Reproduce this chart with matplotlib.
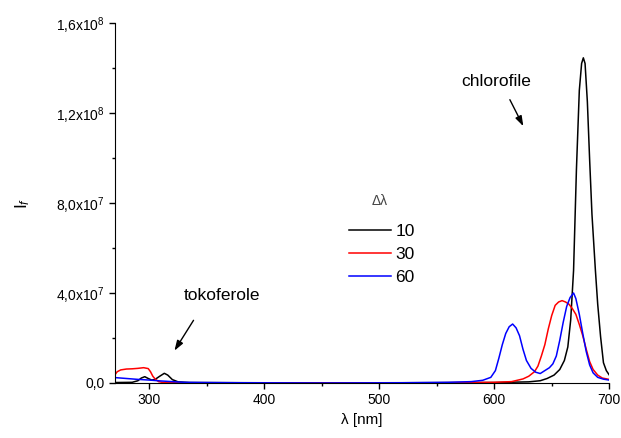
import matplotlib
matplotlib.use("Agg")
import matplotlib.pyplot as plt
from matplotlib.ticker import MultipleLocator, FixedLocator, FixedFormatter

plt.rcParams["font.family"] = ["Liberation Sans", "DejaVu Sans"]
plt.rcParams["mathtext.fontset"] = "custom"
plt.rcParams["mathtext.rm"] = "Liberation Sans"
plt.rcParams["mathtext.it"] = "Liberation Sans:italic"

# dl = 10
wl_10 = [270, 285, 290, 293, 296, 299, 302, 305, 309, 313, 316, 320, 325, 335, 400, 500,
         600, 630, 640, 646, 652, 657, 661, 664, 666.5, 669, 671.5, 674, 676, 677.5, 679,
         681, 683, 685, 688, 690, 692.5, 695, 697.5, 700]
if_10 = [0.02, 0.03, 0.1, 0.22, 0.28, 0.2, 0.13, 0.16, 0.3, 0.43, 0.35, 0.15, 0.05, 0.02, 0.01, 0.01,
         0.02, 0.05, 0.1, 0.2, 0.35, 0.6, 1.0, 1.6, 2.8, 5.0, 9.5, 13.0, 14.2, 14.45, 14.2,
         12.5, 9.9, 7.5, 5.0, 3.5, 2.06, 0.9, 0.55, 0.36]

# dl = 30
wl_30 = [270, 272, 275, 280, 285, 290, 295, 299, 301, 303, 305, 308, 312, 320, 350, 450, 550,
         600, 615, 625, 630, 635, 638, 641, 644, 647, 650, 653, 656, 659, 662, 665, 668, 671,
         674, 677, 680, 683, 686, 690, 694, 700]
if_30 = [0.36, 0.5, 0.58, 0.62, 0.63, 0.65, 0.68, 0.64, 0.5, 0.3, 0.18, 0.06, 0.02, 0.01, 0.0, 0.0, 0.01,
         0.03, 0.06, 0.18, 0.3, 0.5, 0.75, 1.2, 1.7, 2.4, 3.0, 3.45, 3.6, 3.66, 3.6, 3.5, 3.3, 3.05,
         2.6, 2.1, 1.5, 0.95, 0.6, 0.35, 0.22, 0.16]

# dl = 60
wl_60 = [270, 280, 290, 300, 310, 320, 330, 350, 380, 450, 520, 560, 580, 590, 597, 601, 604,
         607, 610, 613, 616, 619, 622, 625, 628, 632, 636, 640, 644, 648, 651, 654, 657, 660,
         663, 666, 669, 671, 674, 677, 680, 683, 686, 690, 695, 700]
if_60 = [0.24, 0.2, 0.16, 0.13, 0.09, 0.06, 0.03, 0.02, 0.01, 0.0, 0.01, 0.03, 0.06, 0.12, 0.25, 0.55, 1.1,
         1.7, 2.2, 2.5, 2.62, 2.45, 2.1, 1.5, 1.0, 0.65, 0.48, 0.42, 0.55, 0.68, 0.85, 1.2, 1.9, 2.7,
         3.4, 3.8, 4.0, 3.75, 3.05, 2.2, 1.4, 0.8, 0.45, 0.25, 0.17, 0.13]

series = [("10", wl_10, if_10, "black"),
          ("30", wl_30, if_30, "#ff0000"),
          ("60", wl_60, if_60, "#0000ff")]

ytick_vals = [0, 4e7, 8e7, 1.2e8, 1.6e8]
ytick_labels = ["0,0", "4,0x10$^{7}$", "8,0x10$^{7}$", "1,2x10$^{8}$", "1,6x10$^{8}$"]

fig = plt.figure(figsize=(6.21, 4.38), dpi=100)
ax = fig.add_axes([0.185, 0.1256, 0.796, 0.822])

for label, wl, vals, color in series:
    ax.plot(wl, [v * 1e7 for v in vals], color=color, lw=1.1, label=label)

ax.set_xlim(270, 700)
ax.set_ylim(0, 1.6e8)
ax.xaxis.set_major_locator(MultipleLocator(100))
ax.xaxis.set_minor_locator(MultipleLocator(50))
ax.yaxis.set_major_locator(FixedLocator(ytick_vals))
ax.yaxis.set_major_formatter(FixedFormatter(ytick_labels))
ax.yaxis.set_minor_locator(MultipleLocator(2e7))
ax.tick_params(which="both", direction="out", labelsize=10, width=1)
ax.tick_params(which="major", length=4)
ax.tick_params(which="minor", length=2.5)
ax.spines["top"].set_visible(False)
ax.spines["right"].set_visible(False)

ax.set_xlabel("λ [nm]", fontsize=11)
ax.set_ylabel("I$_f$", fontsize=12.5, labelpad=17)

# annotations
ax.text(363, 3.9e7, "tokoferole", fontsize=12.5, ha="center", va="center")
ax.annotate("", xy=(320.5, 1.33e7), xytext=(339.7, 2.89e7),
            arrowprops=dict(arrowstyle="-|>,head_length=0.6,head_width=0.2", color="black", lw=1))
ax.text(602, 13.4e7, "chlorofile", fontsize=12.5, ha="center", va="center")
ax.annotate("", xy=(626.4, 11.3e7), xytext=(612.5, 12.7e7),
            arrowprops=dict(arrowstyle="-|>,head_length=0.6,head_width=0.2", color="black", lw=1))

# legend, with its title placed above it
ax.text(500, 8.1e7, "Δλ", fontsize=10, color="#444444", ha="center", va="center")
ax.legend(frameon=False, fontsize=12.5, handlelength=2.4, handletextpad=0.25,
          labelspacing=0.46, borderpad=0, borderaxespad=0,
          loc="upper left", bbox_to_anchor=(0.474, 0.442))

fig.savefig("out.png", dpi=100)
